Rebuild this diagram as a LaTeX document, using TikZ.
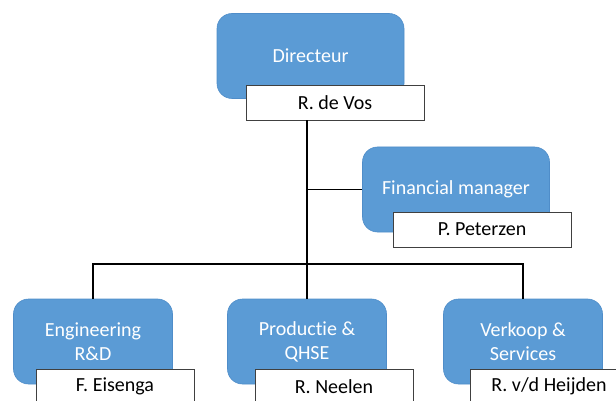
\documentclass[tikz,border=0pt]{standalone}
\usepackage{fontspec}
\setmainfont{Carlito}[Ligatures=NoCommon]
\definecolor{boxblue}{HTML}{5B9BD5}
\definecolor{boxedge}{HTML}{4F8DC9}
\definecolor{nameedge}{HTML}{404040}
\begin{document}
\begin{tikzpicture}[x=1pt,y=-1pt,
  rolebox/.style={draw=boxedge,line width=0.6pt,fill=boxblue,rounded corners=15pt,
    text=white,inner sep=0pt,align=center,font=\fontsize{20}{24}\selectfont},
  toprole/.style={rolebox,minimum width=187pt,minimum height=85pt},
  lowrole/.style={rolebox,minimum width=159pt,minimum height=85pt},
  namebox/.style={draw=nameedge,line width=0.8pt,fill=white,inner sep=0pt,
    minimum height=35pt,text=black,font=\fontsize{20}{24}\selectfont},
  topname/.style={namebox,minimum width=178pt},
  lowname/.style={namebox,minimum width=158pt},
  link/.style={draw=black,line width=1.4pt}]
\useasboundingbox (0,0) rectangle (616,401);
\clip (0,0) rectangle (616,401);
\coordinate (bus) at (307,264);
\node[toprole] (dir) at (310.5,56) {Directeur};
\node[topname] (vos) at (335,102.5) {R. de Vos};
\node[toprole] (fin) at (456,189.5) {Financial manager};
\node[topname] (pet) at (482,229.5) {P. Peterzen};
\node[lowrole] (eng) at (93,341.5) {Engineering\\R\&D};
\node[lowname] (eis) at (115,386.5) {F. Eisenga};
\node[lowrole] (prod) at (307,341.5) {Produc\kern0pt tie \&\\QHSE};
\node[lowname] (neel) at (334,386.5) {R. Neelen};
\node[lowrole] (verk) at (523,341.5) {Verkoop \&\\Services};
\node[lowname] (heij) at (549,386.5) {R. v/d Heijden};
\draw[link] (vos.south -| bus) -- (prod.north);
\draw[link] (bus |- fin.west) -- (fin.west);
\draw[link] (eng.north) |- (bus) -| (verk.north);
\end{tikzpicture}
\end{document}
